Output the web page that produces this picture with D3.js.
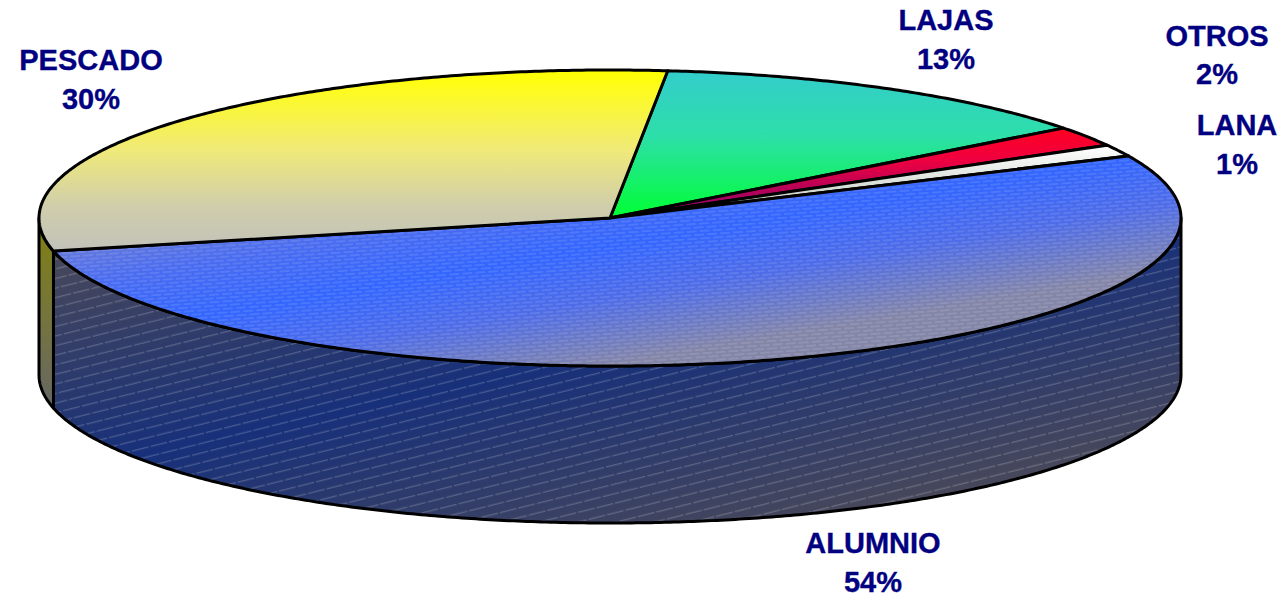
<!DOCTYPE html>
<html>
<head>
<meta charset="utf-8">
<script src="https://cdn.jsdelivr.net/npm/d3@7"></script>
<style>
	html, body { margin: 0; padding: 0; background: #fff; overflow: hidden; }
	text { font-family: "Liberation Sans", Arial, sans-serif; font-weight: bold; font-size: 29px; fill: #000080; stroke: #000080; stroke-width: 0.35px; text-anchor: middle; }
</style>
</head>
<body>
<script>
	// values, clockwise from the yellow/teal edge
	var categories = ['LAJAS', 'OTROS', 'LANA', 'ALUMNIO', 'PESCADO'],
		shares = [13, 2.2, 1.3, 53.3, 30.2],
		printed = ['13%', '2%', '1%', '54%', '30%'];

	var width = 1283,
		height = 599,
		cx = 610,
		cy = 218,
		rx = 571,
		ry = 148,
		depth = 157,
		firstAngle = 5.8 * Math.PI / 180;

	// centre x, baseline of name, baseline of percent
	var labelSpots = {
		LAJAS: [946, 30, 69],
		OTROS: [1217, 46, 84],
		LANA: [1237, 135, 174],
		ALUMNIO: [873, 553, 592],
		PESCADO: [91, 70, 109]
	};

	var svg = d3.select('body').append('svg')
		.attr('width', width)
		.attr('height', height);
	var defs = svg.append('defs');

	function vertical(id, y1, y2, stops) {
		var grad = defs.append('linearGradient')
			.attr('id', id)
			.attr('gradientUnits', 'userSpaceOnUse')
			.attr('x1', 0).attr('y1', y1)
			.attr('x2', 0).attr('y2', y2);
		stops.forEach(function(s) {
			grad.append('stop').attr('offset', s[0]).attr('stop-color', s[1]);
		});
	}

	// colour bands across the blue slice run along the hatch, not level
	function slanted(id, x0, y0, half, slope, stops) {
		var n = Math.sqrt(1 + slope * slope),
			dx = -slope / n * half,
			dy = 1 / n * half,
			grad = defs.append('linearGradient')
				.attr('id', id)
				.attr('gradientUnits', 'userSpaceOnUse')
				.attr('x1', x0 - dx).attr('y1', y0 - dy)
				.attr('x2', x0 + dx).attr('y2', y0 + dy);
		stops.forEach(function(s) {
			grad.append('stop').attr('offset', s[0]).attr('stop-color', s[1]);
		});
	}

	// two rows per tile, the second shifted so the dashes do not stack up
	function hatch(id, step, dash, gap, angle, alpha, weight) {
		var tile = dash + gap,
			pat = defs.append('pattern')
				.attr('id', id)
				.attr('patternUnits', 'userSpaceOnUse')
				.attr('width', tile)
				.attr('height', step * 2)
				.attr('patternTransform', 'rotate(' + angle + ')');
		[[0, dash, 0.5], [tile * 0.45, tile, 1.5], [0, dash - tile * 0.55, 1.5]].forEach(function(r) {
			pat.append('line')
				.attr('x1', r[0]).attr('y1', step * r[2])
				.attr('x2', r[1]).attr('y2', step * r[2])
				.attr('stroke', '#fff')
				.attr('stroke-opacity', alpha)
				.attr('stroke-width', weight);
		});
	}

	vertical('fillLAJAS', 70, 218, [[0, '#33cccc'], [0.45, '#2ddfa8'], [1, '#00ff33']]);
	vertical('fillOTROS', 129, 218, [[0, '#ff0022'], [0.35, '#ee0040'], [1, '#800070']]);
	vertical('fillLANA', 146, 218, [[0, '#ffffff'], [1, '#b8c4b8']]);
	vertical('fillPESCADO', 70, 250, [[0, '#ffff00'], [0.12, '#fdfb22'], [0.45, '#efe97a'], [0.75, '#d0ceaa'], [1, '#c2c2ba']]);
	slanted('fillALUMNIO', 610, 246, 118, -0.17, [[0, '#7a84cc'], [0.28, '#4a6cf0'], [0.5, '#3366ff'], [0.72, '#4e6ce8'], [1, '#8486a8']]);

	vertical('sidePESCADO', 218, 410, [[0, '#808010'], [0.5, '#75753c'], [1, '#666666']]);
	slanted('sideALUMNIO', 610, 352, 215, -0.22, [[0, '#48485a'], [0.5, '#17307a'], [1, '#48485a']]);

	hatch('hatchTop', 3.7, 10, 3, -4, 0.2, 1);
	hatch('hatchSide', 9.3, 17, 2, -14, 0.32, 0.8);

	var x = d3.scaleLinear().domain([-1, 1]).range([cx - rx, cx + rx]),
		y = d3.scaleLinear().domain([-1, 1]).range([cy + ry, cy - ry]);

	var line = d3.line()
		.x(function(p) { return p[0]; })
		.y(function(p) { return p[1]; });

	function rim(a, drop) {
		return [x(Math.sin(a)), y(Math.cos(a)) + (drop || 0)];
	}

	function sweep(a0, a1, drop) {
		var n = Math.max(2, Math.ceil((a1 - a0) * 120));
		return d3.range(n + 1).map(function(i) {
			return rim(a0 + (a1 - a0) * i / n, drop);
		});
	}

	var pie = d3.pie()
		.sort(null)
		.startAngle(firstAngle)
		.endAngle(firstAngle + 2 * Math.PI);

	var slices = pie(shares).map(function(s, i) {
		s.name = categories[i];
		s.printed = printed[i];
		return s;
	});

	// the wall is only seen along the near half of the rim
	var near0 = Math.PI / 2,
		near1 = 3 * Math.PI / 2;

	var walls = svg.append('g');
	slices.forEach(function(s) {
		var a0 = Math.max(s.startAngle, near0),
			a1 = Math.min(s.endAngle, near1);
		if (a1 <= a0) {
			return;
		}
		var outline = line(sweep(a0, a1, 0).concat(sweep(a0, a1, depth).reverse())) + 'Z';
		walls.append('path')
			.attr('d', outline)
			.attr('fill', 'url(#side' + s.name + ')');
		if (s.name === 'ALUMNIO') {
			walls.append('path')
				.attr('d', outline)
				.attr('fill', 'url(#hatchSide)');
		}
		walls.append('path')
			.attr('d', outline)
			.attr('fill', 'none')
			.attr('stroke', '#000')
			.attr('stroke-width', 3)
			.attr('stroke-linejoin', 'round');
	});

	var tops = svg.append('g');
	slices.forEach(function(s) {
		var outline = line([[cx, cy]].concat(sweep(s.startAngle, s.endAngle, 0))) + 'Z';
		tops.append('path')
			.attr('d', outline)
			.attr('fill', 'url(#fill' + s.name + ')');
		if (s.name === 'ALUMNIO') {
			tops.append('path')
				.attr('d', outline)
				.attr('fill', 'url(#hatchTop)');
		}
		tops.append('path')
			.attr('d', outline)
			.attr('fill', 'none')
			.attr('stroke', '#000')
			.attr('stroke-width', 3)
			.attr('stroke-linejoin', 'round');
	});

	var labels = svg.append('g').selectAll('g')
		.data(slices)
		.enter().append('g');
	labels.append('text')
		.attr('x', function(d) { return labelSpots[d.name][0]; })
		.attr('y', function(d) { return labelSpots[d.name][1]; })
		.text(function(d) { return d.name; });
	labels.append('text')
		.attr('x', function(d) { return labelSpots[d.name][0]; })
		.attr('y', function(d) { return labelSpots[d.name][2]; })
		.text(function(d) { return d.printed; });
</script>
</body>
</html>
